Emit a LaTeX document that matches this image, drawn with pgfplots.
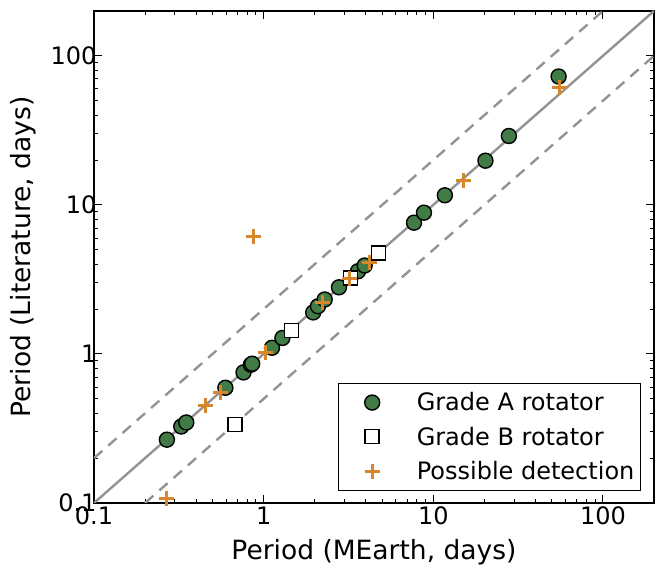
\documentclass[border=0pt]{standalone}
\usepackage{fontspec}
\setmainfont{DejaVu Sans}
\usepackage{pgfplots}
\pgfplotsset{compat=1.18}
\definecolor{mgreen}{HTML}{417B45}
\definecolor{morange}{HTML}{D8862B}
\definecolor{mgray}{HTML}{939393}
\pgfplotsset{mymarkleg/.style={legend image code/.code={\path (-30pt,0pt) (41pt,0pt);\draw[mark repeat=2,mark phase=2,##1] plot coordinates {(-1pt,0pt) (0pt,0pt) (1pt,0pt)};}}}
\begin{document}
\begin{tikzpicture}
\begin{axis}[
  xmode=log, ymode=log,
  scale only axis, width=560pt, height=492pt,
  xmin=0.1, xmax=200, ymin=0.1, ymax=200,
  log ticks with fixed point,
  /pgf/number format/assume math mode=true,
  tick label style={font=\fontsize{24}{28}\selectfont},
  yticklabel style={xshift=6pt},
  label style={font=\fontsize{26.5}{31}\selectfont},
  xlabel={Period (MEarth, days)},
  ylabel={Period (Literature, days)},
  xlabel style={yshift=-8pt},
  ylabel style={yshift=8pt},
  axis line style={line width=1.6pt},
  major tick length=8pt, minor tick length=4pt,
  every tick/.style={black, line width=0.9pt},
  tick align=inside,
  legend cell align=left,
  legend style={at={(1,0)}, anchor=south east, xshift=-13pt, yshift=12pt,
    draw=black, line width=1.2pt, fill=white,
    font=\fontsize{24}{28}\selectfont,
    inner xsep=3pt, inner ysep=6.5pt, row sep=8.5pt,
    nodes={inner sep=3pt}},
]
\coordinate (ll) at (rel axis cs:0,0);
\coordinate (ur) at (rel axis cs:1,1);
\addplot[mgray, line width=2.4pt, forget plot] coordinates {(0.1,0.1) (200,200)};
\addplot[mgray, line width=2.4pt, dash pattern=on 11pt off 8pt, forget plot] coordinates {(0.1,0.2) (100,200)};
\addplot[mgray, line width=2.4pt, dash pattern=on 11pt off 8pt, forget plot] coordinates {(0.2,0.1) (200,100)};

\addplot[only marks, mark=*, mark size=7.5pt, mark options={fill=mgreen, draw=black, line width=1.4pt}, mymarkleg]
coordinates {
(0.269,0.266) (0.327,0.326) (0.350,0.347) (0.595,0.593) (0.761,0.752)
(0.841,0.847) (0.856,0.860) (1.12,1.10) (1.29,1.28) (1.96,1.90)
(2.09,2.09) (2.29,2.32) (2.78,2.80) (3.60,3.59) (3.94,3.92)
(7.70,7.60) (8.81,8.87) (11.7,11.6) (20.3,19.8) (27.9,29.0) (54.8,72.7)
};
\addlegendentry{Grade A rotator}

\addplot[only marks, mark=square*, mark size=7pt, mark options={fill=white, draw=black, line width=1.4pt}, mymarkleg]
coordinates {
(0.677,0.335) (1.46,1.44) (3.25,3.24) (4.76,4.77)
};
\addlegendentry{Grade B rotator}

\addplot[only marks, mark=+, mark size=7.5pt, mark options={draw=morange, line width=3pt}, mymarkleg]
coordinates {
(0.268,0.108) (0.457,0.450) (0.560,0.552) (1.02,1.02) (0.867,6.11)
(2.22,2.22) (3.19,3.19) (4.18,4.13) (15.1,14.6) (55.5,61.3)
};
\addlegendentry{Possible detection}
\end{axis}
\pgfresetboundingbox
\path ([shift={(-94pt,-66pt)}]ll) rectangle ([shift={(9pt,11pt)}]ur);
\end{tikzpicture}
\end{document}
